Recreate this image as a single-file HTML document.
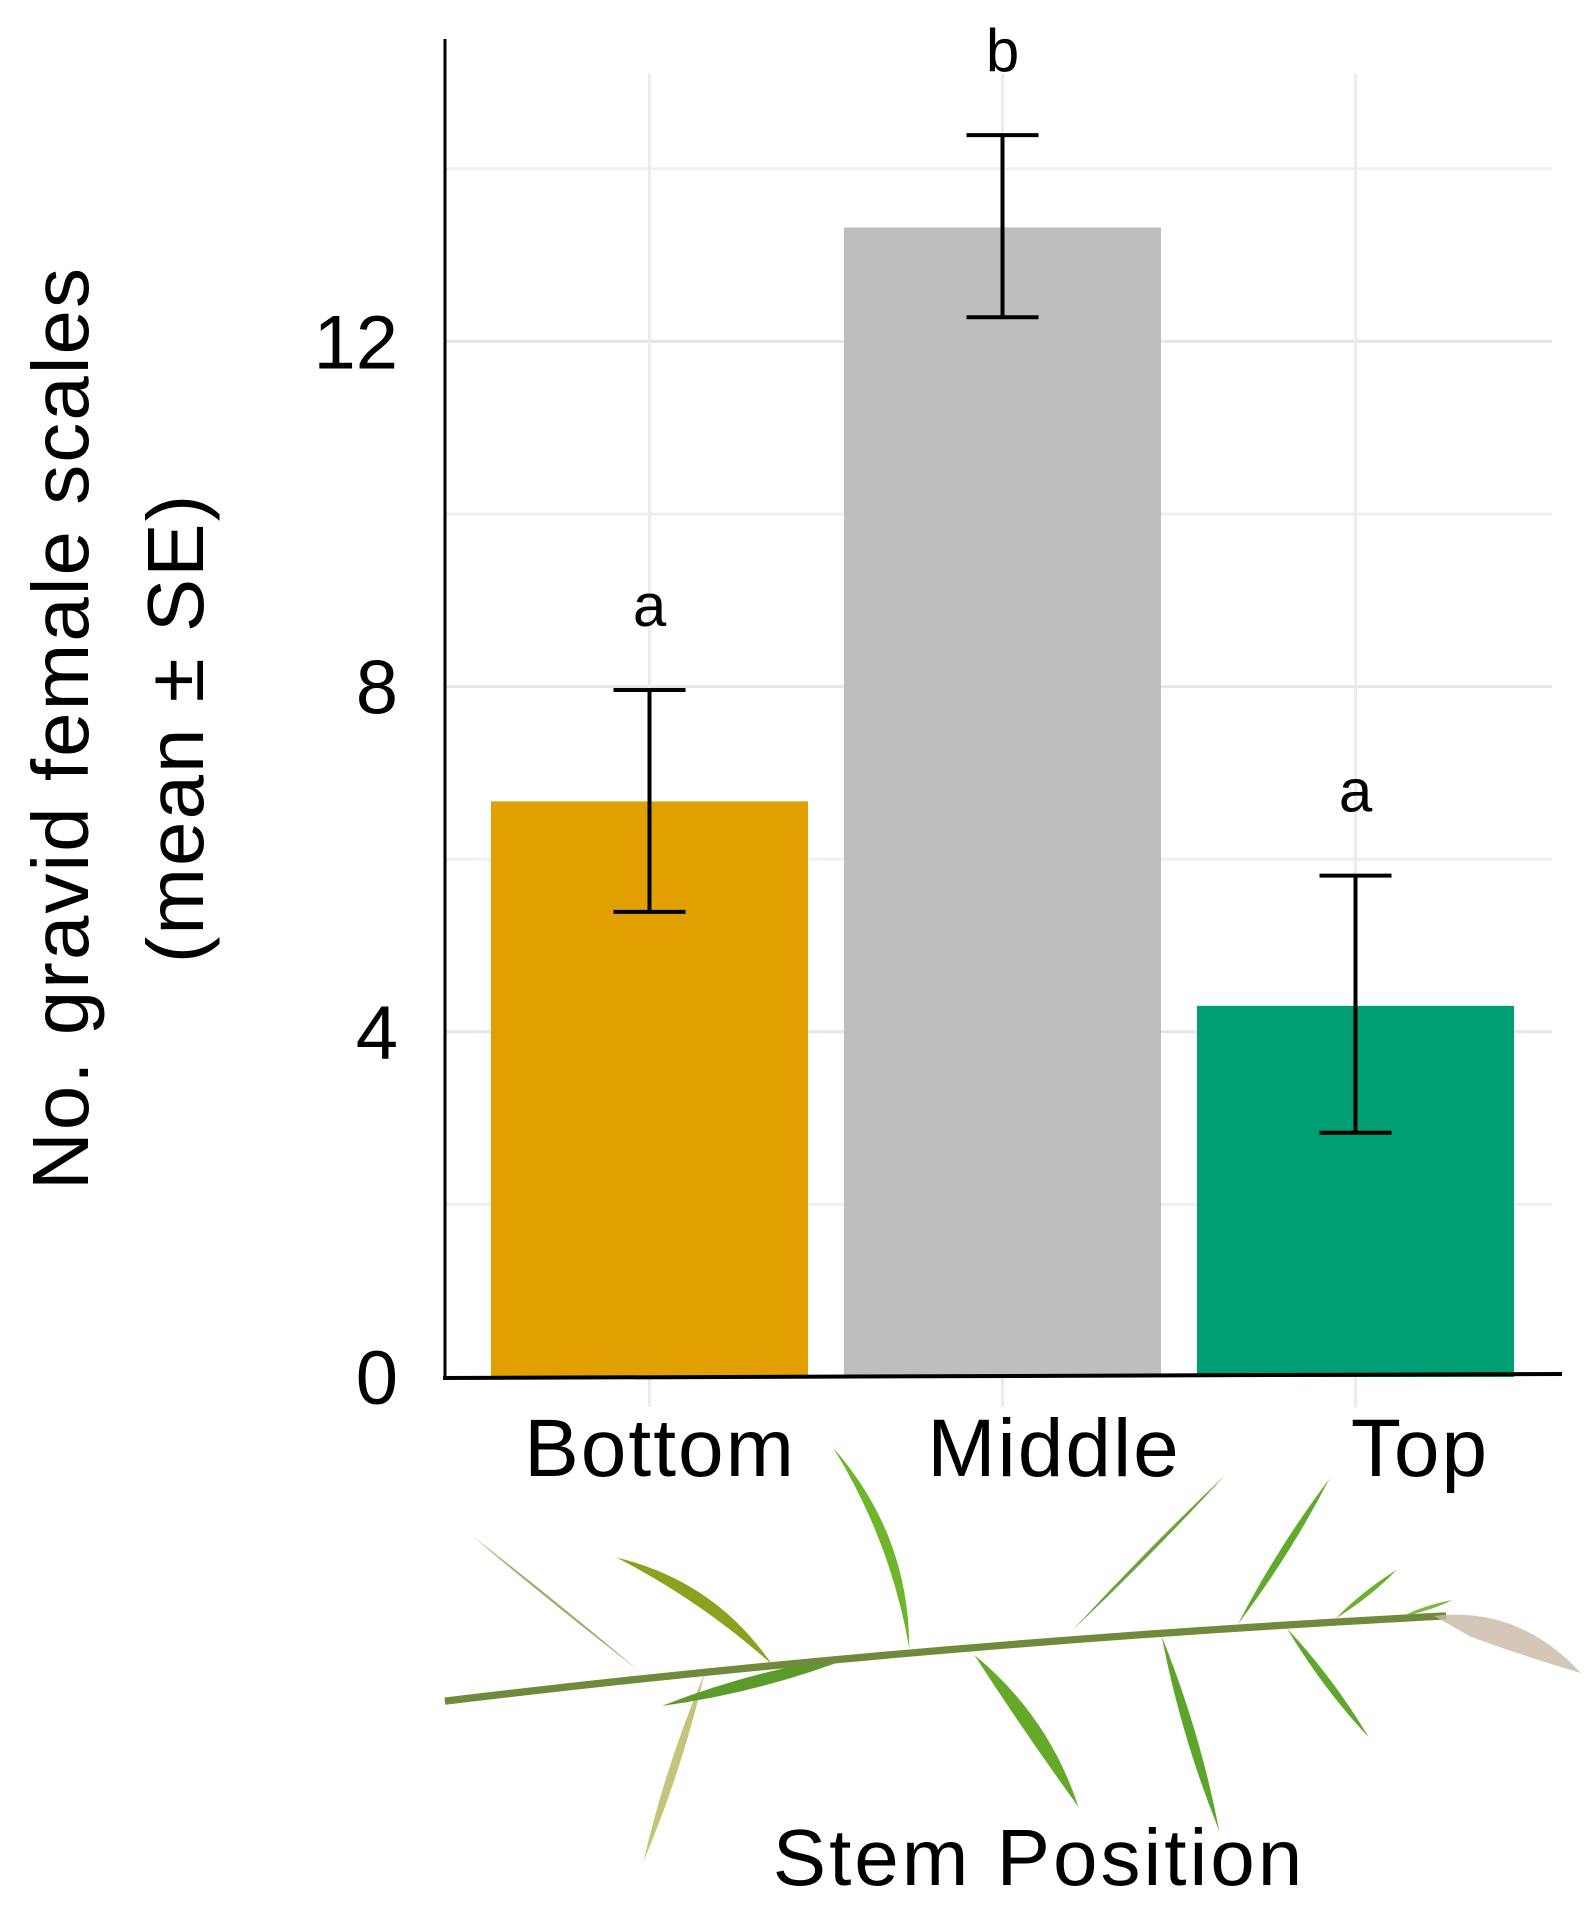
<!DOCTYPE html>
<html><head><meta charset="utf-8">
<style>
html,body{margin:0;padding:0;background:#fff;}
svg{display:block;font-family:"Liberation Sans",sans-serif;}
</style></head>
<body>
<svg id="chart" width="1594" height="1908" viewBox="0 0 1594 1908" xmlns="http://www.w3.org/2000/svg">
<g id="grid"></g>
<g id="bars"></g>
<g id="errs"></g>
<g id="axes"></g>
<g id="labels"></g>
<g id="plant" transform="scale(1.2255 1.2168)"></g>
</svg>
<script>
const categories = ["Bottom", "Middle", "Top"];
const means = [6.67, 13.32, 4.30];
const errUpper = [7.96, 14.39, 5.81];
const errLower = [5.39, 12.28, 2.83];
const sigLetters = ["a", "b", "a"];
const yTicks = [0, 4, 8, 12];
const yGrid = [2, 4, 6, 8, 10, 12, 14];
const colors = ["#e29f00", "#bebebe", "#009e73"];

const NS = "http://www.w3.org/2000/svg";
const X0 = 445, X1 = 1562, Y0 = 1377, PX_PER = 86.3;
const catX0 = 491, catStep = 353, barW = 317;
const catLabelX = [660, 1054, 1420];
function y(v){ return Y0 - v * PX_PER; }
function xc(i){ return catX0 + i * catStep + barW / 2; }
function mk(tag, attrs, parent){
  const e = document.createElementNS(NS, tag);
  for (const k in attrs) e.setAttribute(k, attrs[k]);
  parent.appendChild(e); return e;
}
const grid = document.getElementById('grid');
yGrid.forEach(v => {
  const l = mk('line', {x1: X0, x2: 1552, y1: y(v), y2: y(v), stroke: v % 4 === 0 ? '#e6e6e6' : '#efefef', 'stroke-width': 3}, grid);
  
  
});
categories.forEach((c, i) => {
  const l = mk('line', {x1: xc(i), x2: xc(i), y1: 74, y2: Y0 + 30, stroke: '#ececec', 'stroke-width': 3}, grid);
  
  
});
const bars = document.getElementById('bars');
const errs = document.getElementById('errs');
const labels = document.getElementById('labels');
categories.forEach((c, i) => {
  const r = mk('rect', {x: catX0 + i * catStep, y: y(means[i]), width: barW, height: Y0 - y(means[i]), fill: colors[i]}, bars);
  
  
  const g = mk('g', {stroke: '#000', 'stroke-width': 4}, errs);
  
  
  const cx = xc(i);
  mk('line', {x1: cx, x2: cx, y1: y(errUpper[i]), y2: y(errLower[i])}, g);
  mk('line', {x1: cx - 36, x2: cx + 36, y1: y(errUpper[i]), y2: y(errUpper[i])}, g);
  mk('line', {x1: cx - 36, x2: cx + 36, y1: y(errLower[i]), y2: y(errLower[i])}, g);
  const t = mk('text', {x: cx, y: y(errUpper[i]) - 64, 'font-size': 60, 'text-anchor': 'middle'}, labels);
  t.textContent = sigLetters[i];
  
  
  const ct = mk('text', {x: catLabelX[i], y: 1476, 'font-size': 82, 'letter-spacing': 2, 'text-anchor': 'middle'}, labels);
  ct.textContent = c;
  
  
});
yTicks.forEach(v => {
  const t = mk('text', {x: 398, y: y(v) + 27, 'font-size': 76, 'text-anchor': 'end'}, labels);
  t.textContent = v;
  
  
});
const axes = document.getElementById('axes');
const ya = mk('line', {x1: X0, x2: X0, y1: 39, y2: Y0 + 2, stroke: '#000', 'stroke-width': 3}, axes);


const xa = mk('line', {x1: X0 - 2, x2: X1, y1: Y0 + 1, y2: Y0 - 3, stroke: '#000', 'stroke-width': 4}, axes);


const yt1 = mk('text', {x: 0, y: 0, 'font-size': 80, 'letter-spacing': 2, 'text-anchor': 'middle', transform: 'translate(88,728) rotate(-90)'}, labels);
yt1.textContent = 'No. gravid female scales';


const yt2 = mk('text', {x: 0, y: 0, 'font-size': 80, 'letter-spacing': 2, 'text-anchor': 'middle', transform: 'translate(203,728) rotate(-90)'}, labels);
yt2.textContent = '(mean ± SE)';


const xt = mk('text', {x: 1039, y: 1885, 'font-size': 80, 'letter-spacing': 3, 'text-anchor': 'middle'}, labels);
xt.textContent = 'Stem Position';



// decorative plant illustration (display coords scaled)
const plant = document.getElementById('plant');
function leaf(x1, y1, x2, y2, w, col, bend){
  const dx = x2 - x1, dy = y2 - y1, L = Math.hypot(dx, dy);
  const nx = -dy / L, ny = dx / L;
  const mx = (x1 + x2) / 2 + nx * (bend || 0), my = (y1 + y2) / 2 + ny * (bend || 0);
  const d = `M${x1},${y1} Q${mx + nx*w},${my + ny*w} ${x2},${y2} Q${mx - nx*w},${my - ny*w} ${x1},${y1}Z`;
  const p = mk('path', {d: d, fill: col}, plant);
  
  
}
leaf(385,1262,520,1372,2,'#a8a870',0);
leaf(575,1375,525,1530,7,'#c4c47a',0);
leaf(540,1402,700,1360,10,'#5d9a2c',0);
const stem = mk('path', {d: 'M363,1398 Q760,1350 1180,1328', stroke: '#6f8a3a', 'stroke-width': 6, fill: 'none'}, plant);


leaf(503,1280,630,1368,10,'#8ea020',-20);
leaf(680,1190,742,1355,8,'#6fb52a',-25);
leaf(1000,1212,875,1340,3,'#6ca23a',0);
leaf(1085,1215,1010,1335,6,'#62aa2c',0);
leaf(1140,1290,1090,1330,4,'#6cb030',0);
leaf(1185,1315,1145,1328,3,'#7ab840',0);
leaf(795,1360,880,1485,12,'#64aa28',-10);
leaf(948,1345,995,1505,8,'#5da42a',0);
leaf(1050,1338,1117,1428,6,'#5ea82b',0);
const plume = mk('path', {d: 'M1170,1328 Q1240,1320 1290,1375 Q1240,1360 1200,1345 Z', fill: '#c9b9a6', opacity: 0.8}, plant);


</script>
</body></html>
